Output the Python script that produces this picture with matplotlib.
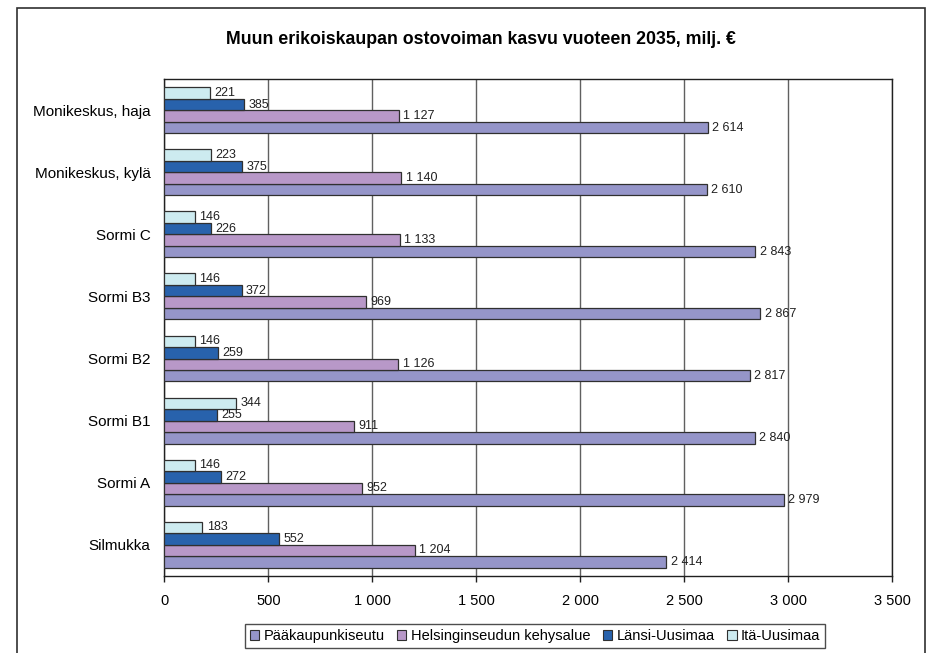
import numpy as np
import matplotlib.pyplot as plt
from matplotlib.patches import Rectangle, Patch

plt.rcParams['font.family'] = ['Liberation Sans', 'DejaVu Sans']

# kategoriat alhaalta ylös
categories = ['Silmukka', 'Sormi A', 'Sormi B1', 'Sormi B2', 'Sormi B3',
              'Sormi C', 'Monikeskus, kylä', 'Monikeskus, haja']

paakaupunkiseutu = [2414, 2979, 2840, 2817, 2867, 2843, 2610, 2614]
kehysalue = [1204, 952, 911, 1126, 969, 1133, 1140, 1127]
lansi_uusimaa = [552, 272, 255, 259, 372, 226, 375, 385]
ita_uusimaa = [183, 146, 344, 146, 146, 146, 223, 221]

series = ['Pääkaupunkiseutu', 'Helsinginseudun kehysalue', 'Länsi-Uusimaa', 'Itä-Uusimaa']
values = [paakaupunkiseutu, kehysalue, lansi_uusimaa, ita_uusimaa]
colors = ['#9595C9', '#B898C8', '#2862AC', '#CDEBF0']

xticks = [0, 500, 1000, 1500, 2000, 2500, 3000, 3500]


def fmt(v):
    return '{:,}'.format(v).replace(',', ' ')


fig = plt.figure(figsize=(9.3, 6.53), dpi=100)
ax = fig.add_axes([0.1767, 0.1184, 0.7824, 0.7602])

h = 0.185
y = np.arange(len(categories))
for i, (name, vals, col) in enumerate(zip(series, values, colors)):
    pos = y + (i - 1.5) * h
    ax.barh(pos, vals, height=h, color=col, edgecolor='#303030', linewidth=0.9,
            label=name, zorder=3)
    for p, v in zip(pos, vals):
        ax.text(v + 21, p, fmt(v), va='center', ha='left', fontsize=9,
                color='#202020', zorder=4)

ax.set_xlim(0, 3500)
ax.set_ylim(-0.5, len(categories) - 0.5)
ax.set_xticks(xticks)
ax.set_xticklabels([fmt(t) for t in xticks], fontsize=10.5)
ax.set_yticks(y)
ax.set_yticklabels(categories, fontsize=11)
ax.tick_params(axis='y', length=0, pad=10)
ax.tick_params(axis='x', length=4, width=1, pad=9, color='#202020')
ax.xaxis.grid(True, color='#606060', linewidth=1, zorder=0)
ax.set_axisbelow(True)
for s in ax.spines.values():
    s.set_color('#202020')
    s.set_linewidth(1)

fig.text(0.517, 0.939, 'Muun erikoiskaupan ostovoiman kasvu vuoteen 2035, milj. €',
         ha='center', va='center', fontsize=12.8, fontweight='bold')

handles = [Patch(facecolor=c, edgecolor='#303030', linewidth=0.8) for c in colors]
leg = fig.legend(handles, series, loc='center', bbox_to_anchor=(535 / 930, 1 - 636 / 653),
                 ncol=4, fontsize=10.5, frameon=True, fancybox=False, handlelength=0.65,
                 handleheight=0.65, handletextpad=0.3, columnspacing=0.85,
                 borderpad=0.35, edgecolor='#202020')
leg.get_frame().set_linewidth(1)

# ulkokehys
fig.patches.append(Rectangle((17 / 930, -0.01), (925 - 17) / 930, 1 - 8 / 653 + 0.01,
                             transform=fig.transFigure, fill=False,
                             edgecolor='#303030', linewidth=1.2))

fig.savefig('out.png', dpi=100)
